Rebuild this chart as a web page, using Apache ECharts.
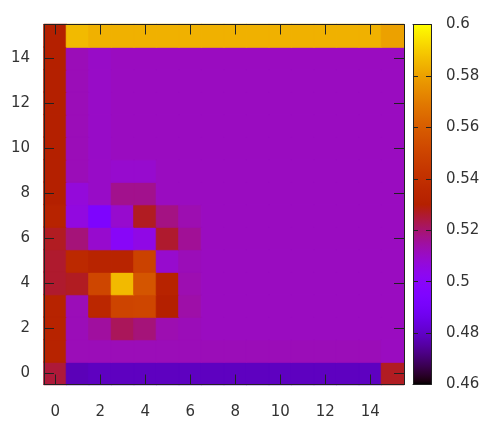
<!DOCTYPE html>
<html><head><meta charset="utf-8">
<script src="https://cdn.jsdelivr.net/npm/echarts@6/dist/echarts.min.js"></script>
<style>html,body{margin:0;padding:0;background:#fff}#c{width:493px;height:425px}</style>
</head><body><div id="c"></div>
<script>
// ---- data ----
const xLabels = ['0','1','2','3','4','5','6','7','8','9','10','11','12','13','14','15'];
const yLabels = ['0','1','2','3','4','5','6','7','8','9','10','11','12','13','14','15'];
const cbMin = 0.46, cbMax = 0.6, cbStep = 0.02;
// values per row, y = 0 .. 15, each for x = 0 .. 15
const row0  = [0.525,0.478,0.479,0.479,0.479,0.479,0.479,0.479,0.479,0.479,0.479,0.479,0.479,0.479,0.479,0.527];
const row1  = [0.532,0.512,0.512,0.512,0.512,0.512,0.512,0.512,0.512,0.512,0.512,0.512,0.512,0.512,0.512,0.511];
const row2  = [0.532,0.512,0.515,0.522,0.519,0.513,0.512,0.511,0.511,0.511,0.511,0.511,0.511,0.511,0.511,0.511];
const row3  = [0.532,0.512,0.535,0.550,0.551,0.530,0.514,0.511,0.511,0.511,0.511,0.511,0.511,0.511,0.511,0.511];
const row4  = [0.526,0.527,0.551,0.586,0.557,0.532,0.513,0.511,0.511,0.511,0.511,0.511,0.511,0.511,0.511,0.511];
const row5  = [0.526,0.536,0.533,0.533,0.549,0.509,0.512,0.511,0.511,0.511,0.511,0.511,0.511,0.511,0.511,0.511];
const row6  = [0.527,0.519,0.509,0.500,0.505,0.526,0.516,0.511,0.511,0.511,0.511,0.511,0.511,0.511,0.511,0.511];
const row7  = [0.532,0.506,0.494,0.509,0.527,0.518,0.513,0.511,0.511,0.511,0.511,0.511,0.511,0.511,0.511,0.511];
const row8  = [0.530,0.507,0.510,0.517,0.517,0.511,0.511,0.511,0.511,0.511,0.511,0.511,0.511,0.511,0.511,0.511];
const row9  = [0.530,0.512,0.510,0.509,0.509,0.511,0.511,0.511,0.511,0.511,0.511,0.511,0.511,0.511,0.511,0.511];
const row10 = [0.530,0.512,0.510,0.511,0.511,0.511,0.511,0.511,0.511,0.511,0.511,0.511,0.511,0.511,0.511,0.511];
const row11 = [0.530,0.512,0.510,0.511,0.511,0.511,0.511,0.511,0.511,0.511,0.511,0.511,0.511,0.511,0.511,0.511];
const row12 = [0.530,0.512,0.510,0.511,0.511,0.511,0.511,0.511,0.511,0.511,0.511,0.511,0.511,0.511,0.511,0.511];
const row13 = [0.530,0.512,0.510,0.511,0.511,0.511,0.511,0.511,0.511,0.511,0.511,0.511,0.511,0.511,0.511,0.511];
const row14 = [0.530,0.512,0.510,0.511,0.511,0.511,0.511,0.511,0.511,0.511,0.511,0.511,0.511,0.511,0.511,0.511];
const row15 = [0.530,0.586,0.584,0.584,0.584,0.584,0.584,0.584,0.584,0.584,0.584,0.584,0.584,0.584,0.584,0.580];
const rows = [row0,row1,row2,row3,row4,row5,row6,row7,row8,row9,row10,row11,row12,row13,row14,row15];

// ---- palette (gnuplot rgbformulae 7,5,15) ----
function gp(t){
  t = Math.min(1, Math.max(0, t));
  const r = Math.sqrt(t), g = t*t*t, b = Math.max(0, Math.sin(2*Math.PI*t));
  return 'rgb(' + Math.round(255*r) + ',' + Math.round(255*g) + ',' + Math.round(255*b) + ')';
}
const palette = [];
for (let i = 0; i <= 100; i++) palette.push(gp(i/100));
// vertical gradient for the colour box: top = max, bottom = min
const cbGradient = new echarts.graphic.LinearGradient(0, 0, 0, 1,
  palette.map((c, i) => ({offset: 1 - i/100, color: c})).reverse());

// heatmap items; a thin border in the cell's own colour hides antialiasing seams
const heat = [];
rows.forEach((r, y) => r.forEach((v, x) => heat.push({
  value: [x, y, v],
  itemStyle: {borderWidth: 1, borderColor: gp((v - cbMin) / (cbMax - cbMin))}
})));

const FONT = 'DejaVu Sans';
const TXT = '#333';
const LINE = '#222';
const G = {left: 44, top: 24.5, width: 360, height: 360};
const CB = {left: 413, top: 24.5, width: 18, height: 360};

function catAxis(kind, pos, labels, showLabel){
  return {
    type: 'category', data: labels, gridIndex: 0, position: pos, z: 10,
    axisLine: {show: true, onZero: false, lineStyle: {color: LINE, width: 1}},
    axisTick: {show: true, inside: true, length: 10, alignWithLabel: true, interval: 1, lineStyle: {color: LINE, width: 1}},
    axisLabel: {show: showLabel, interval: 1, margin: kind === 'x' ? 20 : 14, fontSize: 15, fontFamily: FONT, color: TXT},
    splitLine: {show: false}
  };
}
function cbYAxis(pos, showLabel){
  return {
    type: 'value', gridIndex: 1, position: pos, min: cbMin, max: cbMax, interval: cbStep, z: 10,
    axisLine: {show: true, onZero: false, lineStyle: {color: LINE, width: 1}},
    axisTick: {show: true, inside: true, length: 5, lineStyle: {color: LINE, width: 1}},
    axisLabel: {show: showLabel, margin: 15, fontSize: 15, fontFamily: FONT, color: TXT, showMinLabel: true, showMaxLabel: true},
    splitLine: {show: false}
  };
}
function cbXAxis(pos){
  return {
    type: 'value', gridIndex: 1, position: pos, min: 0, max: 1, z: 10,
    axisLine: {show: true, onZero: false, lineStyle: {color: LINE, width: 1}},
    axisTick: {show: false}, axisLabel: {show: false}, splitLine: {show: false}
  };
}

const chart = echarts.init(document.getElementById('c'), null, {renderer: 'canvas'});
chart.setOption({
  animation: false,
  backgroundColor: '#fff',
  grid: [
    Object.assign({containLabel: false}, G),
    Object.assign({containLabel: false, show: true, borderWidth: 0, backgroundColor: cbGradient}, CB)
  ],
  xAxis: [catAxis('x','bottom',xLabels,true), catAxis('x','top',xLabels,false), cbXAxis('bottom'), cbXAxis('top')],
  yAxis: [catAxis('y','left',yLabels,true), catAxis('y','right',yLabels,false), cbYAxis('right',true), cbYAxis('left',false)],
  visualMap: {
    type: 'continuous', show: false, min: cbMin, max: cbMax, seriesIndex: 0,
    inRange: {color: palette}
  },
  series: [{
    type: 'heatmap', xAxisIndex: 0, yAxisIndex: 0, data: heat,
    itemStyle: {borderWidth: 0}, emphasis: {disabled: true}
  }]
});
</script>
</body></html>
